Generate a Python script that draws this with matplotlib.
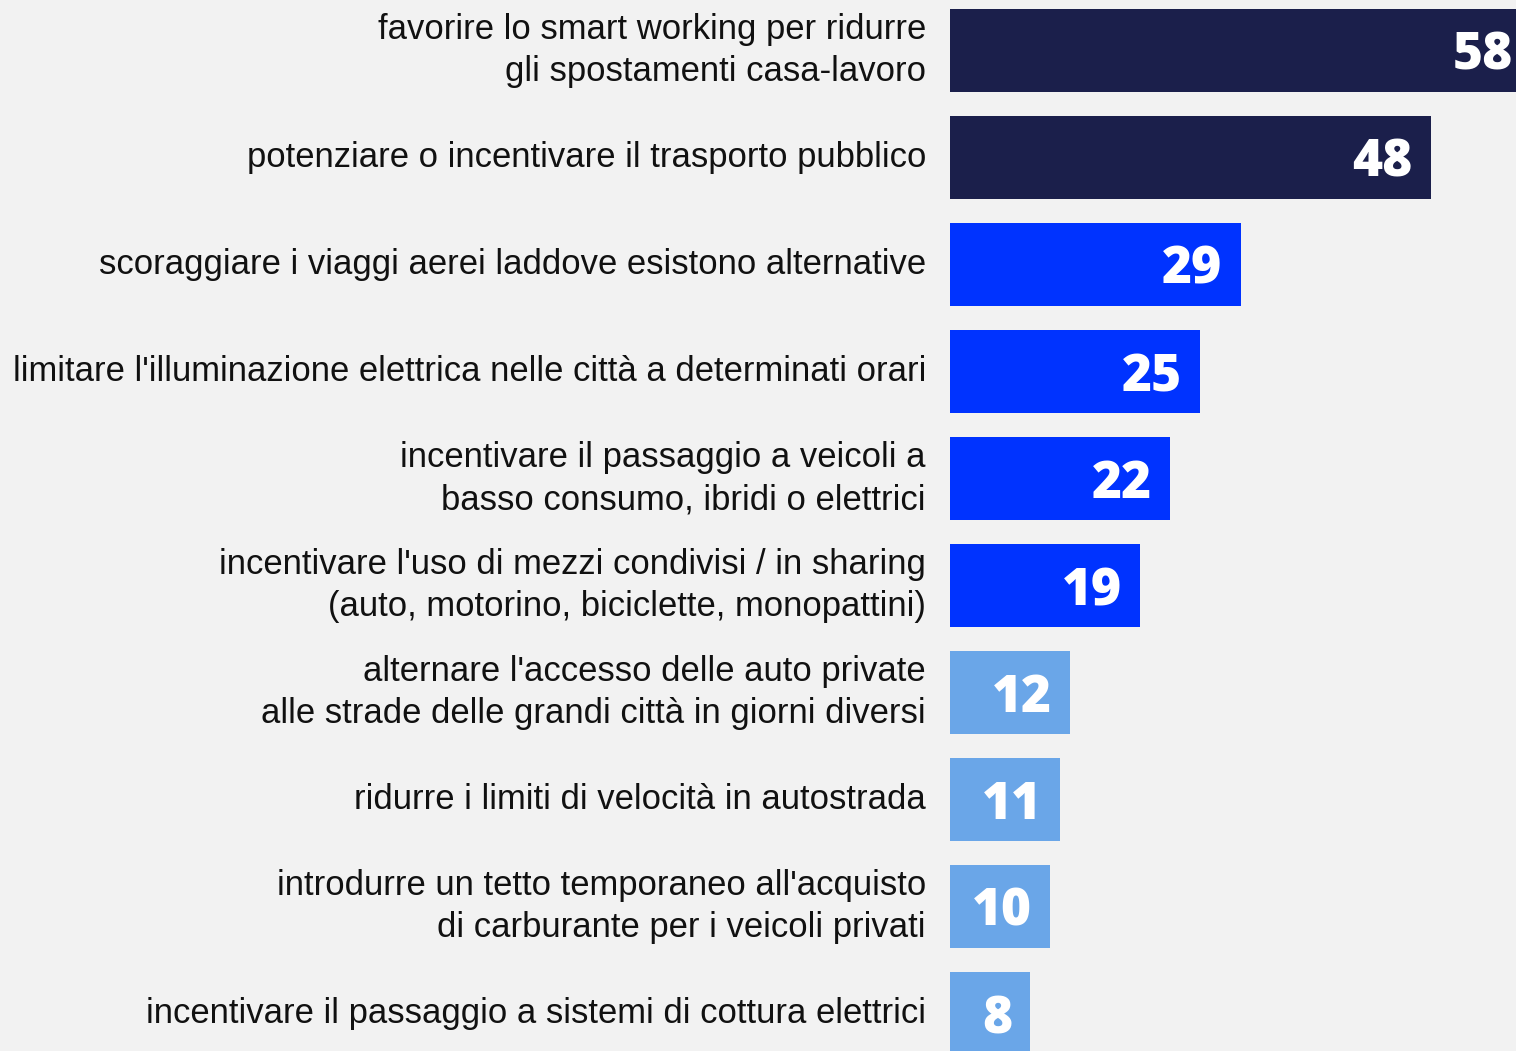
import numpy as np
import matplotlib
matplotlib.use('Agg')
import matplotlib.pyplot as plt

labels = ['favorire lo smart working per ridurre\ngli spostamenti casa-lavoro',
          'potenziare o incentivare il trasporto pubblico',
          'scoraggiare i viaggi aerei laddove esistono alternative',
          "limitare l'illuminazione elettrica nelle città a determinati orari",
          'incentivare il passaggio a veicoli a\nbasso consumo, ibridi o elettrici',
          "incentivare l'uso di mezzi condivisi / in sharing\n(auto, motorino, biciclette, monopattini)",
          "alternare l'accesso delle auto private\nalle strade delle grandi città in giorni diversi",
          'ridurre i limiti di velocità in autostrada',
          "introdurre un tetto temporaneo all'acquisto\ndi carburante per i veicoli privati",
          'incentivare il passaggio a sistemi di cottura elettrici']
values = [58, 48, 29, 25, 22, 19, 12, 11, 10, 8]
colors = ['#1b1f4b', '#1b1f4b', '#0033ff', '#0033ff', '#0033ff', '#0033ff',
          '#6aa6e8', '#6aa6e8', '#6aa6e8', '#6aa6e8']

bg = '#f2f2f2'
fig = plt.figure(figsize=(15.16, 10.51), dpi=100, facecolor=bg)
ax = fig.add_axes([950 / 1516, 0, 566 / 1516, 1])
ax.set_facecolor(bg)

pos = np.arange(len(values))
ax.barh(pos, values, height=83 / 107, color=colors)
ax.set_xlim(0, 56.5)
ax.set_ylim((1051 - 50.5) / 107, -50.5 / 107)
ax.axis('off')

for i, (lab, v) in enumerate(zip(labels, values)):
    ax.annotate(lab, xy=(0, i), xytext=(-17.3, 0), textcoords='offset points',
                ha='right', va='center', fontsize=24.9, family='Liberation Sans',
                color='#111111', annotation_clip=False, linespacing=1.38)
    ax.annotate(str(v), xy=(v, i), xytext=(-13, 0), textcoords='offset points',
                ha='right', va='center_baseline', fontsize=37, family='Open Sans',
                fontweight=800, color='white', annotation_clip=False)

fig.savefig('out.png', dpi=100, facecolor=bg)
